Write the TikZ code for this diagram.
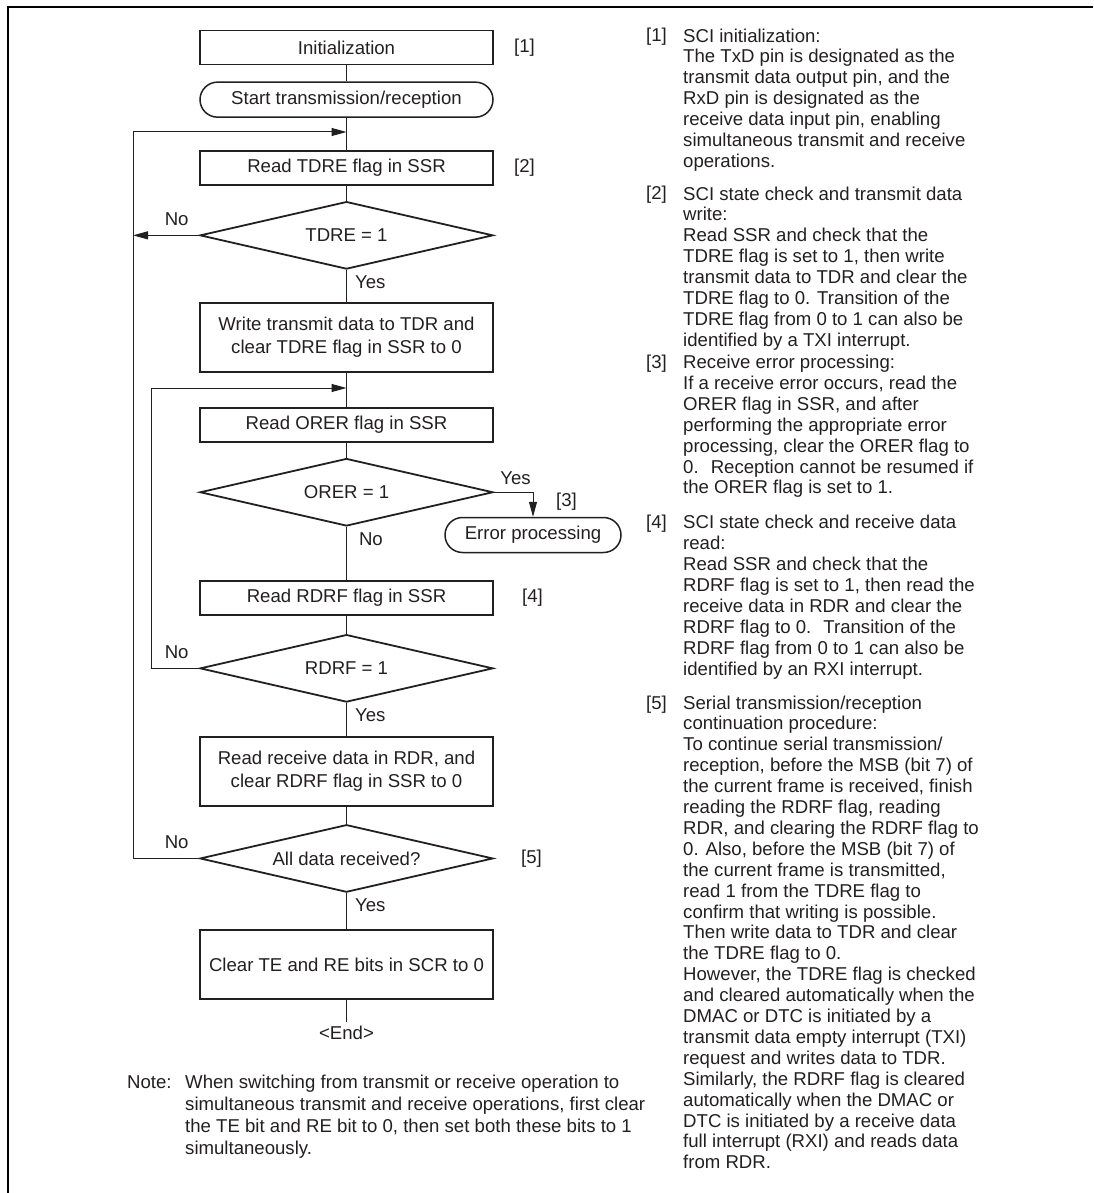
\documentclass[tikz,border=0pt]{standalone}
\usepackage{fontspec}
\setmainfont{Liberation Sans}
\usetikzlibrary{shapes.geometric, arrows.meta, positioning}
\definecolor{FlowInk}{HTML}{231F20}
\tikzset{
    % Plain text everywhere
    every node/.style={font=\fontsize{18.6}{20.9}\selectfont, text=FlowInk},
    % Process box style
    process/.style={
        rectangle,
        draw=FlowInk,
        line width=1.8pt,
        minimum width=293pt,
        minimum height=34pt,
        align=center,
        inner sep=2pt,
        font=\fontsize{18.6}{22.5}\selectfont
    },
    % Decision style
    decision/.style={
        diamond,
        draw=FlowInk,
        line width=1.8pt,
        minimum width=293pt,
        minimum height=67.5pt,
        aspect=4,
        inner sep=0pt
    },
    % Start/End style
    terminal/.style={
        rectangle,
        rounded corners=17.5pt,
        draw=FlowInk,
        line width=1.5pt,
        minimum width=293pt,
        minimum height=35pt
    },
    % Connector styles
    link/.style={draw=FlowInk, line width=1pt},
    arrow/.style={link, -{Triangle[length=15pt, width=8pt]}},
    % Step numbers
    tag/.style={anchor=west, inner sep=0pt},
    % Explanation text (placed at the baseline of its last line)
    notes/.style={anchor=base west, align=left, inner sep=0pt}
}
\begin{document}
\begin{tikzpicture}[x=1pt, y=-1pt]
        \useasboundingbox (0,0) rectangle (1093,1193);
        % Frame
        \draw [line width=2.5pt] (8,1193) -- (8,7) -- (1093,7);

        % Transmit/receive flow
        \node (init) [process] at (346.5,47.5) {Initialization};
        \node (start) [terminal, below=16pt of init] {Start transmission/reception};
        \node (rdtdre) [process, below=32pt of start] {Read TDRE flag in SSR};
        \node (dtdre) [decision, below=15pt of rdtdre] {TDRE = 1};
        \node (write) [process, minimum height=69pt, below=32pt of dtdre] {Write transmit data to TDR and\\clear TDRE flag in SSR to 0};
        \node (rdorer) [process, below=34pt of write] {Read ORER flag in SSR};
        \node (dorer) [decision, below=15pt of rdorer] {ORER = 1};
        \node (rdrdrf) [process, below=53pt of dorer] {Read RDRF flag in SSR};
        \node (drdrf) [decision, below=18pt of rdrdrf] {RDRF = 1};
        \node (rdrecv) [process, minimum height=69pt, below=33pt of drdrf] {Read receive data in RDR, and\\clear RDRF flag in SSR to 0};
        \node (dall) [decision, below=17pt of rdrecv] {All data received?};
        \node (clear) [process, minimum height=69pt, below=36pt of dall] {Clear TE and RE bits in SCR to 0};
        \node (fin) [below=22pt of clear, inner sep=4pt] {<End>};
        \node (err) [terminal, minimum width=176pt] at (533,535) {Error processing};

        \node (t1) [tag, right=20pt of init] {[1]};
        \node (t2) [tag, right=20pt of rdtdre] {[2]};
        \node (t3) [tag] at (556,502) {[3]};
        \node (t4) [tag, right=28pt of rdrdrf] {[4]};
        \node (t5) [tag, right=27pt of dall] {[5]};

        \coordinate (joinA) at (346.5,132);
        \coordinate (joinB) at (346.5,388);
        \coordinate (outer) at (133,132);

        \draw [link] (init) -- (start);
        \draw [link] (start) -- (rdtdre);
        \draw [link] (rdtdre) -- (dtdre);
        \draw [link] (dtdre) -- (write);
        \draw [link] (write) -- (rdorer);
        \draw [link] (rdorer) -- (dorer);
        \draw [link] (dorer) -- (rdrdrf);
        \draw [link] (rdrdrf) -- (drdrf);
        \draw [link] (drdrf) -- (rdrecv);
        \draw [link] (rdrecv) -- (dall);
        \draw [link] (dall) -- (clear);
        \draw [link] (clear) -- (fin);
        \draw [arrow] (dtdre.west) -- (dtdre.west -| outer);
        \draw [arrow] (dall.west) -- (dall.west -| outer) -- (outer) -- (joinA);
        \draw [arrow] (drdrf.west) -- ++(-48,0) |- (joinB);
        \draw [arrow] (dorer.east) -| (err.north);

        \node (no1) [anchor=base east] at ([xshift=-7pt, yshift=10pt]dtdre.west) {No};
        \node (yes1) [anchor=base west] at ([xshift=5pt, yshift=-18pt]dtdre.south) {Yes};
        \node (yes2) [anchor=base west] at ([xshift=3pt, yshift=8pt]dorer.east) {Yes};
        \node (no2) [anchor=base west] at ([xshift=9pt, yshift=-19pt]dorer.south) {No};
        \node (no3) [anchor=base east] at ([xshift=-7pt, yshift=10pt]drdrf.west) {No};
        \node (yes3) [anchor=base west] at ([xshift=5pt, yshift=-18pt]drdrf.south) {Yes};
        \node (no4) [anchor=base east] at ([xshift=-7pt, yshift=10pt]dall.west) {No};
        \node (yes4) [anchor=base west] at ([xshift=5pt, yshift=-18pt]dall.south) {Yes};

        % Note under the flow
        \node (notelbl) [notes] at (127,1088) {Note:};
        \node (notetxt) [notes, font=\fontsize{18.6}{22.3}\selectfont] at (185,{1088+3*22.3}) {When switching from transmit or receive operation to\\simultaneous transmit and receive operations, first clear\\the TE bit and RE bit to 0, then set both these bits to 1\\simultaneously.};

        % Explanations on the right
        \node (n1) [notes] at (646,42) {[1]};
        \node (s1) [notes] at (683,{42+6*20.9}) {SCI initialization:\\The TxD pin is designated as the\\transmit data output pin, and the\\RxD pin is designated as the\\receive data input pin, enabling\\simultaneous transmit and receive\\operations.};
        \node (n2) [notes] at (646,200) {[2]};
        \node (s2) [notes] at (683,{200+7*20.9}) {SCI state check and transmit data\\write:\\Read SSR and check that the\\TDRE flag is set to 1, then write\\transmit data to TDR and clear the\\TDRE flag to 0. Transition of the\\TDRE flag from 0 to 1 can also be\\identified by a TXI interrupt.};
        \node (n3) [notes] at (646,368.5) {[3]};
        \node (s3) [notes] at (683,{368.5+6*20.9}) {Receive error processing:\\If a receive error occurs, read the\\ORER flag in SSR, and after\\performing the appropriate error\\processing, clear the ORER flag to\\0.~ Reception cannot be resumed if\\the ORER flag is set to 1.};
        \node (n4) [notes] at (646,528.7) {[4]};
        \node (s4) [notes] at (683,{528.7+7*20.9}) {SCI state check and receive data\\read:\\Read SSR and check that the\\RDRF flag is set to 1, then read the\\receive data in RDR and clear the\\RDRF flag to 0.~ Transition of the\\RDRF flag from 0 to 1 can also be\\identified by an RXI interrupt.};
        \node (n5) [notes] at (646,709) {[5]};
        \node (s5) [notes] at (683,{709+22*20.9}) {Serial transmission/reception\\continuation procedure:\\To continue serial transmission/\\reception, before the MSB (bit 7) of\\the current frame is received, finish\\reading the RDRF flag, reading\\RDR, and clearing the RDRF flag to\\0. Also, before the MSB (bit 7) of\\the current frame is transmitted,\\read 1 from the TDRE flag to\\confirm that writing is possible.\\Then write data to TDR and clear\\the TDRE flag to 0.\\However, the TDRE flag is checked\\and cleared automatically when the\\DMAC or DTC is initiated by a\\transmit data empty interrupt (TXI)\\request and writes data to TDR.\\Similarly, the RDRF flag is cleared\\automatically when the DMAC or\\DTC is initiated by a receive data\\full interrupt (RXI) and reads data\\from RDR.};
    \end{tikzpicture}
\end{document}
